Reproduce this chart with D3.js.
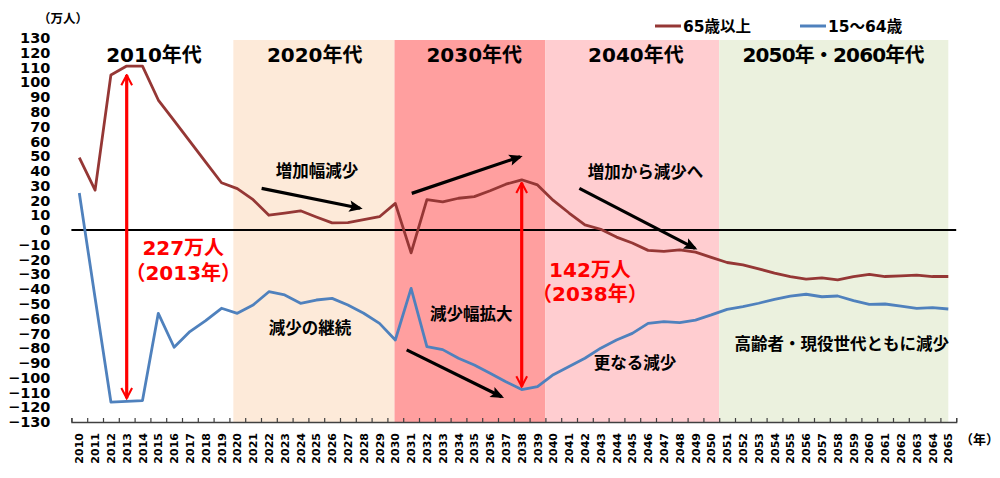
<!DOCTYPE html>
<html><head><meta charset="utf-8">
<script src="https://cdn.jsdelivr.net/npm/d3@7"></script>
<style>
html,body{margin:0;padding:0;background:#fff;}
svg{display:block;}
text{font-family:"DejaVu Sans","Noto Sans CJK JP",sans-serif;font-weight:bold;}
</style></head>
<body><svg id="c" width="1000" height="478"></svg>
<script>
const years = d3.range(2010, 2066);
const seniors = [49,27,105,111,111,88,74,60,46,32,28,20.5,10,11.5,13,8.8,4.8,5,7,9,
  18,-15.5,20.5,19,21.5,22.6,26.6,31,34,30.5,20,11.5,3.5,0.5,-4.8,-8.8,-13.8,-14.5,-13.5,-15,
  -18.5,-22,-23.6,-26.3,-29.2,-31.5,-33.3,-32.4,-33.8,-31.5,-30,-31.5,-31,-30.5,-31.5,-31.5];
const working = [25,-46,-116.5,-116,-115.5,-56.4,-79.4,-68.8,-61.4,-53,-56.4,-50.8,-41.8,-44,-49.6,-47.4,-46.3,-50.8,-56.4,-63.2,
  -74.5,-39.5,-79,-81,-86.8,-91.4,-97,-102.7,-108,-106,-98,-92.5,-86.8,-80,-74.5,-70,-63.2,-62,-62.7,-61,
  -57.5,-53.7,-51.9,-49.6,-46.9,-44.7,-43.5,-45.2,-44.7,-47.8,-50.3,-50.1,-51.5,-53,-52.6,-53.5];
const seriesNames = ["65歳以上", "15～64歳"];
const yTicks = d3.range(-130, 131, 10);
const eraNames = ["2010年代", "2020年代", "2030年代", "2040年代", "2050年・2060年代"];
const eraStart = [2009.5, 2019.75, 2029.95, 2039.5, 2050.5];
const eraEnd   = [2019.75, 2029.95, 2039.5, 2050.5, 2065];
const eraLabelX = [2014.73, 2024.9, 2035.0, 2045.23, 2057.73];
const gapYears = [2013, 2038];
const gapLabels = [["227万人", "（2013年）"], ["142万人", "（2038年）"]];
const gapLabelX = [2016.58, 2042.32];
const gapLabelY = [[-16.9, -33.9], [-31.8, -48.1]];
const notes = ["増加幅減少", "減少の継続", "減少幅拡大", "増加から減少へ", "更なる減少", "高齢者・現役世代ともに減少"];
const noteX = [2025.04, 2024.6, 2034.8, 2045.84, 2045.17, 2058.25];
const noteY = [35.9, -70.4, -60.9, 35.2, -94.1, -81.2];
const trendFrom = [[2021.54, 28.2], [2031.04, 24.8], [2030.72, -81.2], [2041.65, 28.2]];
const trendTo   = [[2027.77, 14.7], [2037.9, 49.6], [2036.73, -112.9], [2048.97, -12.4]];

const eraColors = ["none", "#FDEAD9", "#FF9F9F", "#FFCDD0", "#EBF1DE"];
const seriesColors = ["#953735", "#4F81BD"];

const svg = d3.select("#c");
const x = d3.scaleLinear().domain([2009.5, 2065.5]).range([71.4, 956.2]);
const y = d3.scaleLinear().domain([-130, 130]).range([422, 38]);

const defs = svg.append("defs");
defs.append("marker").attr("id", "blk").attr("viewBox", "0 0 10 10").attr("refX", 8).attr("refY", 5)
  .attr("markerWidth", 4.4).attr("markerHeight", 4.2).attr("orient", "auto")
  .append("path").attr("d", "M0,0.8 L10,5 L0,9.2 L2,5 Z").attr("fill", "#000");
defs.append("marker").attr("id", "red").attr("viewBox", "0 0 10 10").attr("refX", 9).attr("refY", 5)
  .attr("markerWidth", 4).attr("markerHeight", 4).attr("orient", "auto-start-reverse").attr("markerUnits", "strokeWidth")
  .append("path").attr("d", "M1,0.8 L9,5 L1,9.2").attr("fill", "none").attr("stroke", "#FF0000").attr("stroke-width", 1.6);

// era bands
svg.append("g").selectAll("rect").data(eraStart).join("rect")
  .attr("x", (d) => x(d)).attr("y", 40)
  .attr("width", (d, i) => x(eraEnd[i]) - x(d)).attr("height", y(-130) - 40)
  .attr("fill", (d, i) => eraColors[i]);

svg.append("g").selectAll("text").data(eraNames).join("text")
  .attr("x", (d, i) => x(eraLabelX[i])).attr("y", y(113.5))
  .attr("text-anchor", "middle").attr("font-size", 20).attr("fill", "#000")
  .each(function (d, i) { if (i === 4) d3.select(this).attr("textLength", 182).attr("lengthAdjust", "spacing"); })
  .text((d) => d);

// y axis labels
const ya = svg.append("g").attr("transform", `translate(${x(2009.5)},0)`)
  .call(d3.axisLeft(y).tickValues(yTicks).tickSize(0).tickPadding(21).tickFormat(d3.format("d")));
ya.select(".domain").remove();
ya.selectAll("text").attr("font-size", 14.5).attr("fill", "#000").attr("font-family", "DejaVu Sans");

svg.append("text").attr("x", 38).attr("y", 23).attr("font-size", 12.5).attr("fill", "#000").text("（万人）");

// x axis
const xa = svg.append("g").attr("transform", `translate(0,${y(-130)})`)
  .call(d3.axisBottom(x).tickValues(d3.range(2009.5, 2066, 1)).tickSize(-4).tickFormat(""));
xa.select(".domain").attr("stroke", "#404040").attr("stroke-width", 1.3);
xa.selectAll(".tick line").attr("stroke", "#404040").attr("stroke-width", 1.2);

svg.append("g").selectAll("text").data(years).join("text")
  .attr("transform", (d) => `translate(${x(d) + 4},433) rotate(-90)`)
  .attr("text-anchor", "end").attr("font-size", 11).attr("fill", "#000")
  .attr("font-family", "DejaVu Sans").text((d) => d);

svg.append("text").attr("x", 960).attr("y", 444).attr("font-size", 13).attr("fill", "#000").text("（年）");

// zero line
svg.append("line").attr("x1", x(2009.5)).attr("x2", x(2065.5)).attr("y1", y(0)).attr("y2", y(0))
  .attr("stroke", "#000").attr("stroke-width", 2);

// series
const line = d3.line().x((d, i) => x(years[i])).y((d) => y(d));
svg.append("g").selectAll("path").data([seniors, working]).join("path")
  .attr("d", line).attr("fill", "none")
  .attr("stroke", (d, i) => seriesColors[i]).attr("stroke-width", 2.8).attr("stroke-linejoin", "round");

// red gap arrows
svg.append("g").selectAll("line").data(gapYears).join("line")
  .attr("x1", (d) => x(d)).attr("x2", (d) => x(d))
  .attr("y1", (d) => y(seniors[years.indexOf(d)]) + (d === 2013 ? 9 : 3))
  .attr("y2", (d) => y(working[years.indexOf(d)]) - 3)
  .attr("stroke", "#FF0000").attr("stroke-width", 3.2)
  .attr("marker-start", "url(#red)").attr("marker-end", "url(#red)");

gapLabels.forEach((pair, i) => {
  svg.append("g").selectAll("text").data(pair).join("text")
    .attr("x", x(gapLabelX[i])).attr("y", (d, j) => y(gapLabelY[i][j]))
    .attr("text-anchor", "middle").attr("font-size", 20).attr("fill", "#FF0000").text((d) => d);
});

// black trend arrows
svg.append("g").selectAll("line").data(trendFrom).join("line")
  .attr("x1", (d) => x(d[0])).attr("y1", (d) => y(d[1]))
  .attr("x2", (d, i) => x(trendTo[i][0])).attr("y2", (d, i) => y(trendTo[i][1]))
  .attr("stroke", "#000").attr("stroke-width", 3.2).attr("marker-end", "url(#blk)");

svg.append("g").selectAll("text").data(notes).join("text")
  .attr("x", (d, i) => x(noteX[i])).attr("y", (d, i) => y(noteY[i]))
  .attr("text-anchor", "middle").attr("font-size", 16.5).attr("fill", "#000")
  .attr("font-family", "Noto Sans CJK JP").text((d) => d);

// legend
const lg = svg.append("g").selectAll("g").data(seriesNames).join("g")
  .attr("transform", (d, i) => `translate(${i === 0 ? 655 : 800},26)`);
lg.append("line").attr("x1", 0).attr("x2", 26).attr("stroke", (d, i) => seriesColors[i]).attr("stroke-width", 3);
lg.append("text").attr("x", 28).attr("y", 6).attr("font-size", 15.5).attr("fill", "#000").text((d) => d);
</script></body></html>
